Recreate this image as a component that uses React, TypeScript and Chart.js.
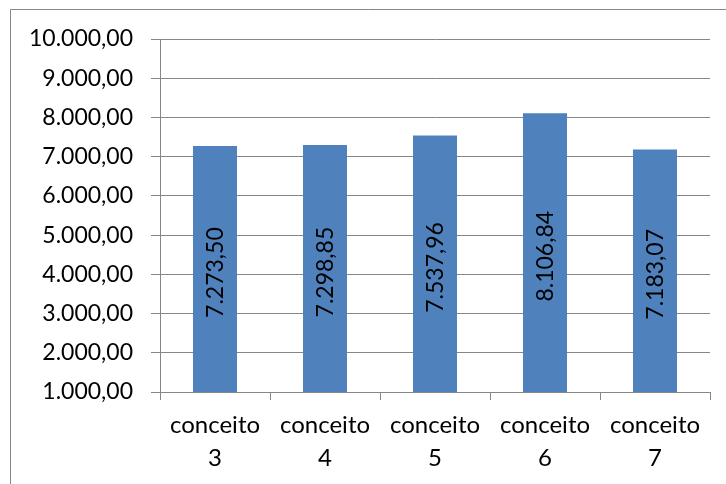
import React, { useEffect, useRef } from "react";
import { Chart, registerables } from "chart.js";

Chart.register(...registerables);

const categories: string[][] = [
  ["conceito", "3"],
  ["conceito", "4"],
  ["conceito", "5"],
  ["conceito", "6"],
  ["conceito", "7"],
];
const values: number[] = [7273.5, 7298.85, 7537.96, 8106.84, 7183.07];
const yMin = 1000;
const yMax = 10000;
const yStep = 1000;

const FONT = "Lato, 'Liberation Sans', sans-serif";
const BAR = "#4F81BD";
const GRID = "#868686";

// Brazilian number style: 7.273,50
function fmt(v: number): string {
  const fixed = Math.abs(v).toFixed(2);
  const [int, dec] = fixed.split(".");
  const grouped = int.replace(/\B(?=(\d{3})+(?!\d))/g, ".");
  return (v < 0 ? "-" : "") + grouped + "," + dec;
}

// Vertical value labels drawn inside each bar
const barLabels = {
  id: "barLabels",
  afterDatasetsDraw(chart: any) {
    const ctx = chart.ctx;
    const meta = chart.getDatasetMeta(0);
    ctx.save();
    ctx.font = `23px ${FONT}`;
    ctx.fillStyle = "#000";
    ctx.textAlign = "center";
    ctx.textBaseline = "middle";
    meta.data.forEach((bar: any, i: number) => {
      const { x, y, base } = bar.getProps(["x", "y", "base"], true);
      const cy = (y + base) / 2 - 16;
      ctx.save();
      ctx.translate(x + 1, cy);
      ctx.rotate(-Math.PI / 2);
      ctx.fillText(fmt(values[i]), 0, 0);
      ctx.restore();
    });
    ctx.restore();
  },
};

// Outer frame of the chart object
const frame = {
  id: "frame",
  beforeDraw(chart: any) {
    const ctx = chart.ctx;
    ctx.save();
    ctx.strokeStyle = GRID;
    ctx.lineWidth = 1;
    ctx.beginPath();
    ctx.moveTo(10.5, chart.height);
    ctx.lineTo(10.5, 9.5);
    ctx.lineTo(chart.width, 9.5);
    ctx.stroke();
    ctx.restore();
  },
};

export default function App() {
  const ref = useRef<HTMLCanvasElement | null>(null);

  useEffect(() => {
    if (!ref.current) return;
    const chart = new Chart(ref.current, {
      type: "bar",
      data: {
        labels: categories,
        datasets: [
          {
            data: values,
            backgroundColor: BAR,
            borderWidth: 0,
            barPercentage: 0.4,
            categoryPercentage: 1,
          },
        ],
      },
      options: {
        responsive: false,
        animation: false,
        devicePixelRatio: 1,
        layout: { padding: { top: 39, right: 16, left: 0, bottom: 0 } },
        plugins: {
          legend: { display: false },
          tooltip: { enabled: false },
        },
        scales: {
          x: {
            offset: true,
            grid: {
              offset: true,
              drawOnChartArea: false,
              drawTicks: true,
              tickLength: 8,
              color: GRID,
            },
            border: { color: GRID, width: 1 },
            ticks: {
              color: "#000",
              padding: 9,
              maxRotation: 0,
              autoSkip: false,
              font: { family: FONT, size: 24, lineHeight: 1.38 },
            },
            afterFit(scale: any) {
              scale.height = 92;
            },
          },
          y: {
            min: yMin,
            max: yMax,
            grid: { color: GRID, tickLength: 9 },
            border: { color: GRID, width: 1 },
            ticks: {
              stepSize: yStep,
              color: "#000",
              padding: 18,
              font: { family: FONT, size: 23 },
              callback: (v: any) => fmt(Number(v)),
            },
            afterFit(scale: any) {
              scale.width = 160;
            },
          },
        },
      },
      plugins: [frame, barLabels],
    });
    return () => chart.destroy();
  }, []);

  return (
    <div style={{ position: "fixed", left: 0, top: 0, width: 726, height: 484, background: "#fff" }}>
      <canvas ref={ref} width={726} height={484} style={{ display: "block" }} />
    </div>
  );
}
